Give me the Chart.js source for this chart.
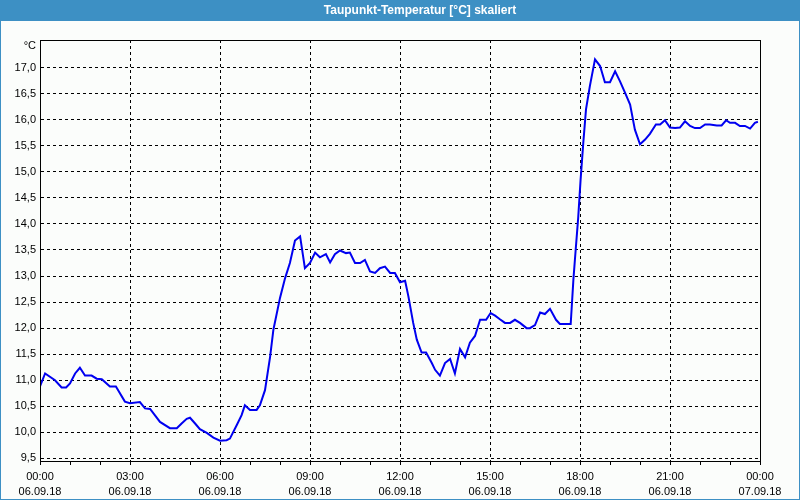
<!DOCTYPE html>
<html>
<head>
<meta charset="utf-8">
<script src="https://cdn.jsdelivr.net/npm/chart.js@4"></script>
<style>
    body { margin: 0; background: #fbfdfb; }
    #wrap { position: relative; width: 800px; height: 500px; }
</style>
</head>
<body>
<div id="wrap"><canvas id="dewChart"></canvas></div>
<script>
// Stunden seit 06.09.18 00:00
const hours = [
    0, 0.17, 0.5, 0.72, 0.87, 1.0, 1.17, 1.33, 1.5, 1.72, 1.89, 2.06, 2.33, 2.53, 2.83, 3.0,
    3.33, 3.5, 3.67, 4.0, 4.33, 4.56, 4.72, 4.89, 5.0, 5.17, 5.33, 5.56, 5.78, 6.0, 6.22, 6.33,
    6.56, 6.72, 6.83, 7.0, 7.22, 7.33, 7.5, 7.67, 7.78, 8.0, 8.17, 8.33, 8.5, 8.67, 8.83, 9.0,
    9.17, 9.33, 9.53, 9.67, 9.83, 10.0, 10.2, 10.33, 10.5, 10.67, 10.83, 11.0, 11.17, 11.33, 11.5,
    11.67, 11.83, 12.0, 12.17, 12.28, 12.44, 12.56, 12.72, 12.87, 13.06, 13.17, 13.33, 13.5, 13.67,
    13.83, 14.0, 14.17, 14.33, 14.5, 14.67, 14.87, 15.02, 15.17, 15.33, 15.5, 15.67, 15.83, 16.0,
    16.22, 16.33, 16.5, 16.67, 16.83, 17.0, 17.2, 17.33, 17.69, 17.78, 17.83, 17.94, 18.02, 18.11,
    18.2, 18.33, 18.5, 18.67, 18.83, 19.0, 19.17, 19.33, 19.5, 19.67, 19.83, 20.0, 20.17, 20.33,
    20.53, 20.67, 20.83, 21.0, 21.17, 21.33, 21.5, 21.67, 21.83, 22.0, 22.17, 22.33, 22.56, 22.72,
    22.87, 23.0, 23.17, 23.33, 23.5, 23.67, 23.83, 23.93
];
const dewPoint = [
    10.88, 11.13, 11.0, 10.86, 10.86, 10.94, 11.13, 11.24, 11.09, 11.09, 11.03, 11.02, 10.88, 10.88, 10.59, 10.56,
    10.58, 10.46, 10.45, 10.2, 10.08, 10.08, 10.17, 10.26, 10.28, 10.17, 10.06, 9.99, 9.9, 9.84, 9.85, 9.88,
    10.14, 10.33, 10.52, 10.43, 10.43, 10.52, 10.81, 11.45, 11.97, 12.58, 12.96, 13.25, 13.68, 13.76, 13.15, 13.25,
    13.45, 13.36, 13.42, 13.26, 13.42, 13.49, 13.44, 13.45, 13.25, 13.25, 13.31, 13.09, 13.06, 13.15, 13.18,
    13.06, 13.06, 12.88, 12.91, 12.61, 12.1, 11.78, 11.53, 11.53, 11.33, 11.2, 11.09, 11.33, 11.41,
    11.13, 11.6, 11.44, 11.72, 11.85, 12.16, 12.16, 12.29, 12.24, 12.17, 12.1, 12.1, 12.16, 12.1,
    12.0, 12.0, 12.06, 12.3, 12.27, 12.37, 12.16, 12.08, 12.08, 12.93, 13.31, 14.12, 14.85, 15.56,
    16.2, 16.65, 17.16, 17.03, 16.72, 16.72, 16.93, 16.74, 16.52, 16.29, 15.81, 15.53, 15.62, 15.73,
    15.91, 15.91, 15.99, 15.85, 15.84, 15.85, 15.97, 15.88, 15.84, 15.84, 15.91, 15.91, 15.89, 15.89,
    15.99, 15.94, 15.94, 15.88, 15.88, 15.83, 15.94, 15.96
];

const yTicks = [9.5, 10.0, 10.5, 11.0, 11.5, 12.0, 12.5, 13.0, 13.5, 14.0, 14.5, 15.0, 15.5, 16.0, 16.5, 17.0];
const timeLabels = ['00:00', '03:00', '06:00', '09:00', '12:00', '15:00', '18:00', '21:00', '00:00'];
const dateLabels = ['06.09.18', '06.09.18', '06.09.18', '06.09.18', '06.09.18', '06.09.18', '06.09.18', '06.09.18', '07.09.18'];

const titleText = 'Taupunkt-Temperatur [°C] skaliert';
const unitText = '°C';

// Rahmen, Titelleiste und Einheit
const framePlugin = {
    id: 'frame',
    beforeDraw(chart) {
        const { ctx, width, height } = chart;
        ctx.save();
        ctx.fillStyle = '#fbfdfb';
        ctx.fillRect(0, 0, width, height);
        ctx.fillStyle = '#3d90c4';
        ctx.fillRect(0, 0, width, 21);
        ctx.strokeStyle = '#3d90c4';
        ctx.lineWidth = 2;
        ctx.strokeRect(0, 0, width, height);
        ctx.fillStyle = '#ffffff';
        ctx.font = 'bold 12px "Liberation Sans"';
        ctx.textAlign = 'center';
        ctx.textBaseline = 'middle';
        ctx.fillText(titleText, 420, 11);
        ctx.restore();
    },
    afterDraw(chart) {
        const { ctx, chartArea: a } = chart;
        ctx.save();
        ctx.strokeStyle = '#000';
        ctx.lineWidth = 1;
        ctx.setLineDash([]);
        ctx.strokeRect(Math.round(a.left) + 0.5, Math.round(a.top) + 0.5,
            Math.round(a.right - a.left), Math.round(a.bottom - a.top));
        ctx.fillStyle = '#000';
        ctx.font = '11px "Liberation Sans"';
        ctx.textAlign = 'right';
        ctx.textBaseline = 'middle';
        ctx.fillText(unitText, 36, 46);
        ctx.restore();
    }
};

new Chart(document.getElementById('dewChart').getContext('2d'), {
    type: 'line',
    data: {
        datasets: [{
            label: 'Taupunkt',
            data: hours.map((h, i) => ({ x: h, y: dewPoint[i] })),
            borderColor: '#0000f0',
            borderWidth: 2,
            pointRadius: 0,
            tension: 0,
            fill: false
        }]
    },
    options: {
        responsive: true,
        maintainAspectRatio: false,
        animation: false,
        layout: { padding: { top: 40, left: 0, right: 40, bottom: 0 } },
        plugins: {
            legend: { display: false },
            tooltip: { enabled: false }
        },
        scales: {
            x: {
                type: 'linear',
                min: 0,
                max: 24,
                afterFit: s => { s.height = 39; },
                ticks: {
                    stepSize: 1,
                    autoSkip: false,
                    maxRotation: 0,
                    padding: 5,
                    color: '#000',
                    font: { family: 'Liberation Sans', size: 11, lineHeight: 1.35 },
                    callback: v => v % 3 === 0 ? [timeLabels[v / 3], dateLabels[v / 3]] : ''
                },
                grid: {
                    color: c => (c.tick && c.tick.value % 3 === 0) ? '#000' : 'rgba(0,0,0,0)',
                    tickColor: '#000',
                    tickLength: 4,
                    tickBorderDash: [],
                    lineWidth: 1
                },
                border: { color: '#000', dash: [3, 3] }
            },
            y: {
                min: 9.45,
                max: 17.53,
                afterFit: s => { s.width = 40; },
                afterBuildTicks: s => { s.ticks = yTicks.map(v => ({ value: v })); },
                ticks: {
                    padding: 4,
                    color: '#000',
                    font: { family: 'Liberation Sans', size: 11 },
                    callback: v => v.toFixed(1).replace('.', ',')
                },
                grid: {
                    color: '#000',
                    drawTicks: false,
                    lineWidth: 1
                },
                border: { color: '#000', dash: [3, 3] }
            }
        }
    },
    plugins: [framePlugin]
});
</script>
</body>
</html>
